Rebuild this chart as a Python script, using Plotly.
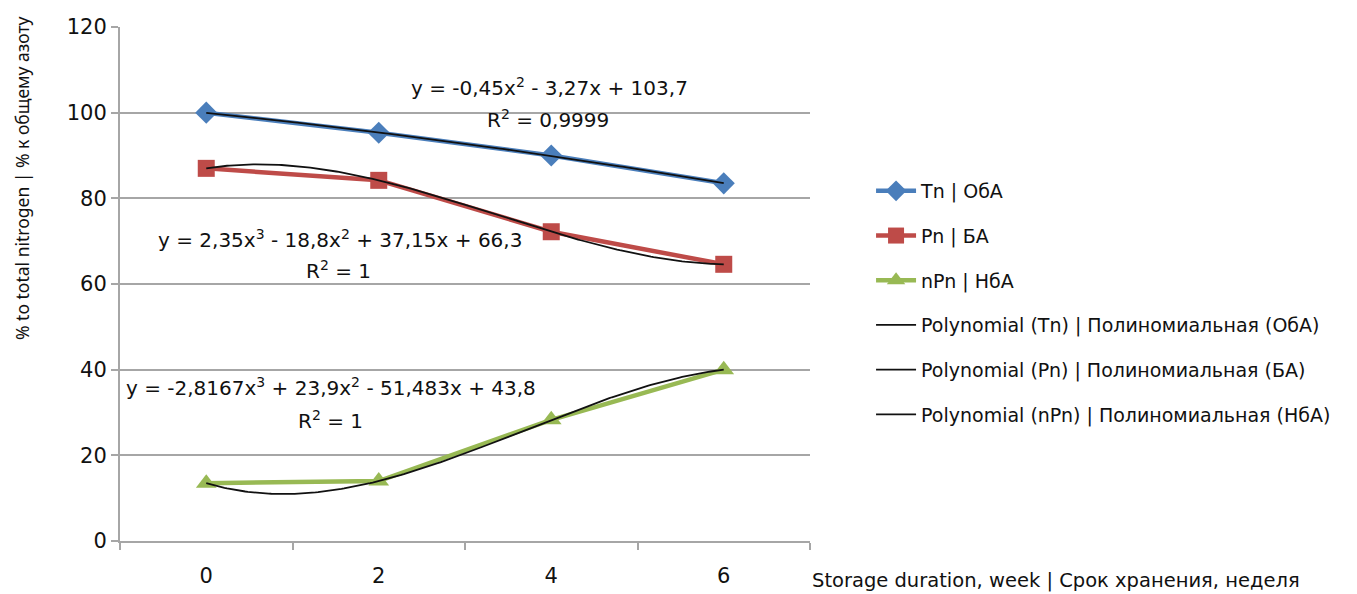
import numpy as np
import plotly.graph_objects as go

weeks = ["0", "2", "4", "6"]
tn = [100.0, 95.3, 90.0, 83.5]
pn = [87.0, 84.2, 72.2, 64.6]
npn = [13.5, 14.0, 28.3, 40.0]

names = ["Tn | ОбА", "Pn | БА", "nPn | НбА"]
trend_names = ["Polynomial (Tn) | Полиномиальная (ОбА)",
               "Polynomial (Pn) | Полиномиальная (БА)",
               "Polynomial (nPn) | Полиномиальная (НбА)"]
colors = ["#4A7EBB", "#BE4B48", "#98B954"]
symbols = ["diamond", "square", "triangle-up"]
marker_sizes = [17, 17, 18]
degrees = [2, 3, 3]
eq_texts = ["y = -0,45x<sup>2</sup> - 3,27x + 103,7",
            "y = 2,35x<sup>3</sup> - 18,8x<sup>2</sup> + 37,15x + 66,3",
            "y = -2,8167x<sup>3</sup> + 23,9x<sup>2</sup> - 51,483x + 43,8"]
r2_texts = ["R<sup>2</sup> = 0,9999", "R<sup>2</sup> = 1", "R<sup>2</sup> = 1"]

FONT = "DejaVu Sans"
idx = np.arange(len(weeks))
series = [tn, pn, npn]

fig = go.Figure()
for i, s in enumerate(series):
    fig.add_trace(go.Scatter(
        x=idx, y=s, mode="lines+markers", name=names[i],
        legendgroup=f"g{i}",
        line=dict(color=colors[i], width=4.5),
        marker=dict(symbol=symbols[i], size=marker_sizes[i], color=colors[i]),
    ))
for i, s in enumerate(series):
    xi = idx + 1.0
    coef = np.polyfit(xi, s, degrees[i])
    xf = np.linspace(1, len(s), 200)
    yf = np.polyval(coef, xf)
    fig.add_trace(go.Scatter(
        x=xf - 1, y=yf, mode="lines", name=trend_names[i],
        legendgroup=f"t{i}",
        line=dict(color="#111111", width=1.8),
    ))

# equation labels (positions in data units)
eq_pos = [(1.99, 106.1, 1.98, 98.6), (0.775, 70.6, 0.767, 63.2), (0.722, 36.0, 0.722, 28.3)]
for i in range(3):
    ex, ey, rx, ry = eq_pos[i]
    fig.add_annotation(x=ex, y=ey, text=eq_texts[i], showarrow=False,
                       font=dict(family=FONT, size=20, color="#111111"))
    fig.add_annotation(x=rx, y=ry, text=r2_texts[i], showarrow=False,
                       font=dict(family=FONT, size=20, color="#111111"))

fig.add_annotation(xref="paper", yref="paper", x=1.0, y=-0.076, xanchor="left", yanchor="middle",
                   text="Storage duration, week | Срок хранения, неделя", showarrow=False,
                   font=dict(family=FONT, size=19.5, color="#111111"))

fig.add_annotation(xref="paper", yref="paper", x=-(120 - 22) / 690, y=(541 - 178) / 514,
                   xanchor="center", yanchor="middle", textangle=-90,
                   text="% to total nitrogen | % к общему азоту", showarrow=False,
                   font=dict(family="Noto Sans", size=17.5, color="#111111"))

fig.update_layout(
    width=1357, height=594,
    margin=dict(l=112, r=555, t=19, b=61),
    paper_bgcolor="white", plot_bgcolor="white",
    font=dict(family=FONT, size=19, color="#111111"),
    showlegend=True,
    legend=dict(xref="container", yref="container", x=0.636, y=1 - 164 / 594,
                xanchor="left", yanchor="top", traceorder="grouped", tracegroupgap=17,
                font=dict(family=FONT, size=19, color="#111111"), bgcolor="rgba(0,0,0,0)",
                itemwidth=40),
    xaxis=dict(range=[-0.5, 3.5], tickmode="array", tickvals=list(idx), ticktext=weeks,
               ticks="outside", ticklen=15, tickcolor="rgba(0,0,0,0)", automargin=False,
               showline=True, linecolor="#A6A6A6", linewidth=2, showgrid=False, zeroline=False,
               tickfont=dict(family=FONT, size=21, color="#111111"),
               minor=dict(tickmode="array", tickvals=[-0.5, 0.5, 1.5, 2.5, 3.5],
                          ticks="outside", ticklen=7, tickcolor="#A6A6A6", tickwidth=2,
                          showgrid=False)),
    yaxis=dict(range=[0, 120], tickmode="linear", tick0=0, dtick=20, automargin=False,
               ticks="outside", ticklen=7, tickcolor="#A6A6A6", tickwidth=2,
               showline=True, linecolor="#A6A6A6", linewidth=2,
               showgrid=True, gridcolor="#A6A6A6", gridwidth=2, zeroline=False,
               tickfont=dict(family=FONT, size=21, color="#111111")),
)

fig.write_html("out.html")
